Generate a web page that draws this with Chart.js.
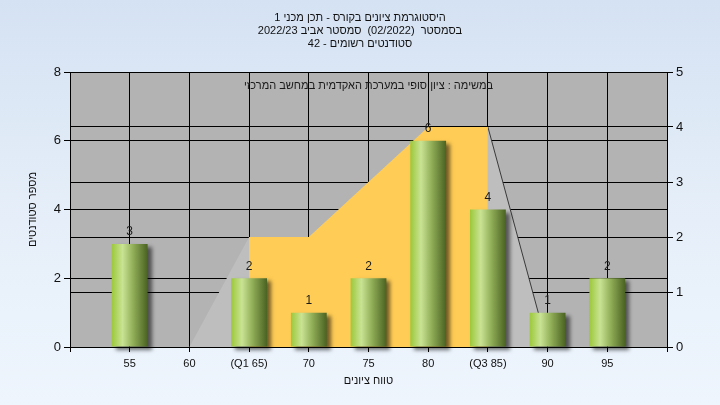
<!DOCTYPE html>
<html dir="ltr"><head><meta charset="utf-8">
<script src="https://cdn.jsdelivr.net/npm/chart.js@4"></script>
<style>
html,body{margin:0;padding:0;direction:ltr;}
body{width:720px;height:405px;background:linear-gradient(180deg,#d5e2f3 0%,#e6eff9 55%,#eef5fd 100%);overflow:hidden;}
canvas{display:block;direction:ltr;}
</style></head><body>
<canvas id="c" width="720" height="405"></canvas>
<script>
// ---- data ----
const titleLines = ['היסטוגרמת ציונים בקורס - תכן מכני 1', 'בסמסטר  (02/2022)  סמסטר אביב 2022/23', 'סטודנטים רשומים - 42'];
const plotNote = 'במשימה : ציון סופי במערכת האקדמית במחשב המרכזי';
const xTitle = 'טווח ציונים';
const yTitle = 'מספר סטודנטים';
const grades = [55, 60, 65, 70, 75, 80, 85, 90, 95];
const gradeLabels = ['55', '60', '(Q1 65)', '70', '75', '80', '(Q3 85)', '90', '95'];
const students = [3, 0, 2, 1, 2, 6, 4, 1, 2];
const curveX = [60, 65, 70, 75, 80, 85, 90];
const curveY = [0, 2, 2, 3, 4, 4, 0];
const q1 = 65, q3 = 85;

// ---- helpers ----
const F = "'Liberation Sans', Arial, sans-serif";
// words laid out left-to-right (as in the reference), each word right-to-left
const vis = s => '\u202A' + s.split(' ').map(w => (/[\u0590-\u05FF]/.test(w) ? '\u202B' + w + '\u202C' : w)).join(' ') + '\u202C';

const barPts = grades.map((g, i) => ({x: g, y: students[i]}));
const curvePts = curveX.map((g, i) => ({x: g, y: curveY[i]}));
const iqrPts = curvePts.filter(p => p.x >= q1 && p.x <= q3);

function barFill(c) {
  const chart = c.chart, xs = chart.scales.x;
  if (!chart.chartArea || !xs || c.dataIndex === undefined) return '#8fb84a';
  const cx = xs.getPixelForValue(grades[c.dataIndex]);
  const half = Math.abs(xs.getPixelForValue(grades[1]) - xs.getPixelForValue(grades[0])) * 0.3;
  const g = chart.ctx.createLinearGradient(cx - half, 0, cx + half, 0);
  g.addColorStop(0, '#9cc83a');
  g.addColorStop(0.3, '#c9e394');
  g.addColorStop(0.6, '#90ad57');
  g.addColorStop(1, '#4a6322');
  return g;
}

const deco = {
  id: 'deco',
  beforeInit(chart) { chart.ctx.direction = 'ltr'; },
  beforeDraw(chart) {
    const {ctx, chartArea: a} = chart;
    ctx.direction = 'ltr';
    ctx.save();
    ctx.fillStyle = '#b3b3b3';
    ctx.fillRect(a.left, a.top, a.right - a.left, a.bottom - a.top);
    ctx.restore();
  },
  beforeDatasetDraw(chart, args) {
    if (args.index === 0) {
      const ctx = chart.ctx;
      ctx.save();
      ctx.shadowColor = 'rgba(0,0,0,0.55)';
      ctx.shadowBlur = 4;
      ctx.shadowOffsetX = 4;
      ctx.shadowOffsetY = 3;
    }
  },
  afterDatasetDraw(chart, args) {
    if (args.index === 0) chart.ctx.restore();
  },
  afterDatasetsDraw(chart) {
    const {ctx, chartArea: a} = chart;
    ctx.save();
    ctx.direction = 'ltr';
    ctx.fillStyle = '#1a1a1a';
    ctx.textAlign = 'center';
    ctx.textBaseline = 'middle';
    ctx.font = '11px ' + F;
    ctx.fillText(vis(plotNote), (a.left + a.right) / 2, a.top + 14);
    ctx.font = '12px ' + F;
    const meta = chart.getDatasetMeta(0);
    meta.data.forEach((el, i) => {
      if (students[i] > 0) ctx.fillText(String(students[i]), el.x, el.y - 12);
    });
    ctx.restore();
  }
};

new Chart(document.getElementById('c'), {
  type: 'bar',
  data: {
    datasets: [
      {type: 'bar', data: barPts, xAxisID: 'x', yAxisID: 'y', backgroundColor: barFill,
       borderWidth: 0, categoryPercentage: 1, barPercentage: 0.6, order: 0, clip: false},
      {type: 'line', data: iqrPts, xAxisID: 'x', yAxisID: 'y1', fill: 'origin',
       backgroundColor: '#ffcc55', borderColor: 'rgba(0,0,0,0)', borderWidth: 0,
       pointRadius: 0, tension: 0, order: 1},
      {type: 'line', data: curvePts, xAxisID: 'x', yAxisID: 'y1', fill: 'origin',
       backgroundColor: '#bebebe', borderWidth: 1, pointRadius: 0, tension: 0, order: 2,
       segment: {borderColor: s => (s.p0.parsed.x >= q3 ? '#3a3a3a' : 'rgba(0,0,0,0)')}}
    ]
  },
  options: {
    responsive: false,
    animation: false,
    layout: {padding: 0},
    plugins: {
      legend: {display: false},
      tooltip: {enabled: false},
      title: {display: true, text: titleLines.map(vis), color: '#111',
              font: {family: F, size: 11, weight: 'normal', lineHeight: '13px'},
              padding: {top: 11, bottom: 22}}
    },
    scales: {
      x: {type: 'linear', min: 50, max: 100, offset: false,
          ticks: {stepSize: 5, autoSkip: false, maxRotation: 0, color: '#111', padding: 5,
                  font: {family: F, size: 11},
                  callback: v => { const i = grades.indexOf(Math.round(v)); return i < 0 ? '' : gradeLabels[i]; }},
          grid: {color: '#000', lineWidth: 1, tickLength: 5, offset: false},
          border: {color: '#000'},
          title: {display: true, text: vis(xTitle), color: '#111', font: {family: F, size: 11},
                  padding: {top: 0, bottom: 17}},
          afterFit: s => { s.height = 58; }},
      y: {position: 'left', min: 0, max: 8,
          ticks: {stepSize: 2, color: '#111', padding: 3, font: {family: F, size: 13}},
          grid: {color: '#000', lineWidth: 1, tickLength: 6},
          border: {color: '#000'},
          title: {display: true, text: yTitle, color: '#111', font: {family: F, size: 11},
                  padding: {top: 26}},
          afterFit: s => { s.width = 70; }},
      y1: {position: 'right', min: 0, max: 5,
           ticks: {stepSize: 1, color: '#111', padding: 3, font: {family: F, size: 13}},
           grid: {color: '#000', lineWidth: 1, tickLength: 6},
           border: {color: '#000'},
           afterFit: s => { s.width = 53; }}
    }
  },
  plugins: [deco]
});
</script>
</body></html>
